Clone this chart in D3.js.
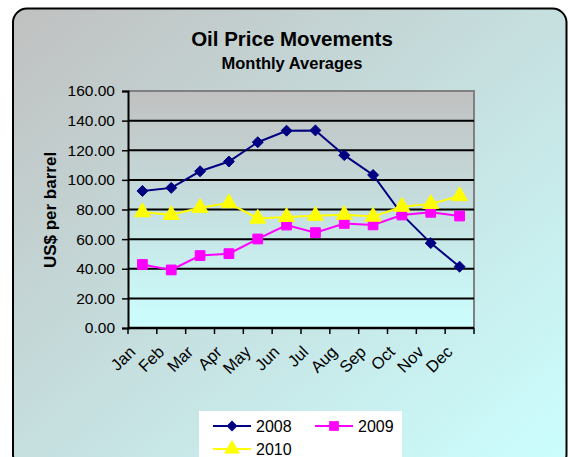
<!DOCTYPE html>
<html>
<head>
<meta charset="utf-8">
<script src="https://cdn.jsdelivr.net/npm/d3@7"></script>
<style>
  body { margin: 0; background: #fff; }
  svg { display: block; font-family: Arial, "Liberation Sans", sans-serif; }
</style>
</head>
<body>
<div class="canvas"></div>
<script>
// data
const months = ['Jan', 'Feb', 'Mar', 'Apr', 'May', 'Jun', 'Jul', 'Aug', 'Sep', 'Oct', 'Nov', 'Dec'];
const price2008 = [92.5, 94.6, 105.8, 112.4, 125.4, 133.2, 133.4, 116.7, 103.3, 76.7, 57.3, 41.4];
const price2009 = [42.9, 39.2, 48.9, 50.2, 60.1, 69.5, 64.4, 70.6, 69.6, 76.3, 78.1, 75.6];
const price2010 = [78.2, 76.4, 81.2, 84.3, 73.9, 75.0, 75.8, 76.5, 75.2, 81.9, 83.8, 89.1];
const yTicks = [0, 20, 40, 60, 80, 100, 120, 140, 160];

// square diamond like the excel marker
const wideDiamond = {
    draw(context, size) {
        const r = Math.sqrt(size / 2);
        context.moveTo(0, -r);
        context.lineTo(r, 0);
        context.lineTo(0, r);
        context.lineTo(-r, 0);
        context.closePath();
    }
};

const series = [
    { name: '2008', values: price2008, color: '#000080', symbol: wideDiamond, size: 60 },
    { name: '2009', values: price2009, color: '#ff00ff', symbol: d3.symbolSquare, size: 95 },
    { name: '2010', values: price2010, color: '#ffff00', symbol: d3.symbolTriangle, size: 110 }
];

const width = 568, height = 457;

const svg = d3.select('.canvas')
    .append('svg')
    .attr('width', width)
    .attr('height', height);

const defs = svg.append('defs');

// outer background gradient (grey top-left -> pale cyan bottom-right)
const bgGrad = defs.append('linearGradient')
    .attr('id', 'bgGrad')
    .attr('x1', '0%').attr('y1', '0%')
    .attr('x2', '100%').attr('y2', '100%');
bgGrad.append('stop').attr('offset', '0%').attr('stop-color', '#c0c0c0');
bgGrad.append('stop').attr('offset', '100%').attr('stop-color', '#ccffff');

// plot area gradient (grey top -> cyan bottom)
const plotGrad = defs.append('linearGradient')
    .attr('id', 'plotGrad')
    .attr('x1', '0%').attr('y1', '0%')
    .attr('x2', '0%').attr('y2', '100%');
plotGrad.append('stop').attr('offset', '0%').attr('stop-color', '#c0c0c0');
plotGrad.append('stop').attr('offset', '100%').attr('stop-color', '#ccffff');

svg.append('rect')
    .attr('x', 13).attr('y', 8.5)
    .attr('width', 553.5).attr('height', 460)
    .attr('rx', 14).attr('ry', 14)
    .attr('fill', 'url(#bgGrad)')
    .attr('stroke', '#000')
    .attr('stroke-width', 2);

// margins and dimensions
const margin = { top: 91, right: 94, bottom: 129, left: 128 };
const graphWidth = width - margin.left - margin.right;
const graphHeight = height - margin.top - margin.bottom;

const graph = svg.append('g')
    .attr('transform', `translate(${margin.left}, ${margin.top})`);

// scales
const x = d3.scaleBand()
    .domain(months)
    .range([0, graphWidth]);

const y = d3.scaleLinear()
    .domain([0, 160])
    .range([graphHeight, 0]);

// plot background
graph.append('rect')
    .attr('width', graphWidth)
    .attr('height', graphHeight)
    .attr('fill', 'url(#plotGrad)');

// top and right border of the plot area
graph.append('path')
    .attr('d', `M0,${y(160)}H${graphWidth}V${graphHeight}`)
    .attr('fill', 'none')
    .attr('stroke', '#808080')
    .attr('stroke-width', 2);

// gridlines
graph.append('g')
    .selectAll('line')
    .data(yTicks.filter(d => d > 0 && d < 160))
    .enter()
    .append('line')
    .attr('x1', 0)
    .attr('x2', graphWidth)
    .attr('y1', d => y(d))
    .attr('y2', d => y(d))
    .attr('stroke', '#000')
    .attr('stroke-width', 2);

// y axis
const yAxis = d3.axisLeft(y)
    .tickValues(yTicks)
    .tickSize(6)
    .tickPadding(7)
    .tickFormat(d3.format('.2f'));

const yAxisGroup = graph.append('g').call(yAxis);
yAxisGroup.select('.domain').attr('stroke', '#000').attr('stroke-width', 2);
yAxisGroup.selectAll('.tick line').attr('stroke', '#000').attr('stroke-width', 1.5);
yAxisGroup.selectAll('text')
    .attr('font-size', 15.5)
    .attr('font-family', 'Arial, "Liberation Sans", sans-serif')
    .attr('fill', '#000');

// x axis: ticks between categories
const xAxisGroup = graph.append('g')
    .attr('transform', `translate(0, ${graphHeight})`);

xAxisGroup.append('line')
    .attr('x1', 0).attr('x2', graphWidth)
    .attr('stroke', '#000')
    .attr('stroke-width', 2.5);

xAxisGroup.selectAll('.xtick')
    .data(months.concat(['end']))
    .enter()
    .append('line')
    .attr('class', 'xtick')
    .attr('x1', (d, i) => i * x.step())
    .attr('x2', (d, i) => i * x.step())
    .attr('y1', 0)
    .attr('y2', 6)
    .attr('stroke', '#000')
    .attr('stroke-width', 1.5);

xAxisGroup.selectAll('.xlabel')
    .data(months)
    .enter()
    .append('text')
    .attr('class', 'xlabel')
    .attr('transform', d => `translate(${x(d) + x.bandwidth() / 2 - 6}, 25) rotate(-45)`)
    .attr('text-anchor', 'end')
    .attr('font-size', 16.5)
    .attr('fill', '#000')
    .text(d => d);

// lines and markers
const line = d3.line()
    .x((d, i) => x(months[i]) + x.bandwidth() / 2)
    .y(d => y(d));

series.forEach(s => {
    graph.append('path')
        .datum(s.values)
        .attr('d', line)
        .attr('fill', 'none')
        .attr('stroke', s.color)
        .attr('stroke-width', 2);
});

series.forEach(s => {
    graph.append('g')
        .selectAll('path')
        .data(s.values)
        .enter()
        .append('path')
        .attr('transform', (d, i) => `translate(${x(months[i]) + x.bandwidth() / 2}, ${y(d)})`)
        .attr('d', d3.symbol().type(s.symbol).size(s.size))
        .attr('fill', s.color)
        .attr('stroke', s.color)
        .attr('stroke-width', 1);
});

// titles
svg.append('text')
    .attr('x', 292).attr('y', 46)
    .attr('text-anchor', 'middle')
    .attr('font-size', 20.5)
    .attr('font-weight', 'bold')
    .text('Oil Price Movements');

svg.append('text')
    .attr('x', 292).attr('y', 69)
    .attr('text-anchor', 'middle')
    .attr('font-size', 16.5)
    .attr('font-weight', 'bold')
    .text('Monthly Averages');

svg.append('text')
    .attr('transform', 'translate(56, 210) rotate(-90)')
    .attr('text-anchor', 'middle')
    .attr('font-size', 17)
    .attr('font-weight', 'bold')
    .text('US$ per barrel');

// legend
const legend = svg.append('g');
legend.append('rect')
    .attr('x', 199).attr('y', 411)
    .attr('width', 203).attr('height', 60)
    .attr('fill', '#fff');

const legendPos = [
    { x: 213, y: 426 },
    { x: 315, y: 426 },
    { x: 213, y: 449 }
];

series.forEach((s, i) => {
    const p = legendPos[i];
    const item = legend.append('g')
        .attr('transform', `translate(${p.x}, ${p.y})`);
    item.append('line')
        .attr('x1', 0).attr('x2', 38)
        .attr('stroke', s.color)
        .attr('stroke-width', 2);
    item.append('path')
        .attr('transform', 'translate(19, 0)')
        .attr('d', d3.symbol().type(s.symbol).size(s.size))
        .attr('fill', s.color);
    item.append('text')
        .attr('x', 43)
        .attr('y', 5.5)
        .attr('font-size', 16)
        .attr('fill', '#000')
        .text(s.name);
});
</script>
</body>
</html>
